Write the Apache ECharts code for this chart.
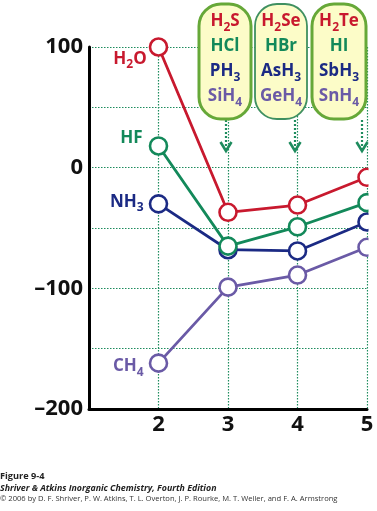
<!DOCTYPE html>
<html>
<head>
<meta charset="utf-8">
<script src="https://cdn.jsdelivr.net/npm/echarts@6/dist/echarts.min.js"></script>
<style>
html,body{margin:0;padding:0;background:#fff;}
#chart{width:377px;height:511px;}
</style>
</head>
<body>
<div id="chart"></div>
<script>
// ---- data ----
const periods = [2, 3, 4, 5];
const h2oSeries = [100, -37, -31, -8];   // H2O, H2S, H2Se, H2Te
const hfSeries = [18, -65, -49, -29];    // HF, HCl, HBr, HI
const nh3Series = [-30, -68, -69, -45];  // NH3, PH3, AsH3, SbH3
const ch4Series = [-162, -99, -89, -66]; // CH4, SiH4, GeH4, SnH4
const seriesNames = ['H_2O', 'HF', 'NH_3', 'CH_4'];
const yTicks = [100, 0, -100, -200];
const yTickLabels = ['100', '0', '–100', '–200'];
const xTicks = [2, 3, 4, 5];
const xTickLabels = ['2', '3', '4', '5'];
const boxFormulas = [
  ['H_2S', 'HCl', 'PH_3', 'SiH_4'],
  ['H_2Se', 'HBr', 'AsH_3', 'GeH_4'],
  ['H_2Te', 'HI', 'SbH_3', 'SnH_4']
];
const footerLines = [
  'Figure 9-4',
  'Shriver & Atkins Inorganic Chemistry, Fourth Edition',
  '© 2006 by D. F. Shriver, P. W. Atkins, T. L. Overton, J. P. Rourke, M. T. Weller, and F. A. Armstrong'
];

// ---- styles ----
const COLORS = ['#c8192e', '#13895a', '#1b2a84', '#6a5aa6'];
const FONT = '"Open Sans", "Liberation Sans", sans-serif';
const GRID_COLOR = '#1e8c5e';

function toRich(str, mainKey, subKey) {
  let out = '';
  const parts = str.split(/(_\d)/);
  parts.forEach(p => {
    if (!p) return;
    if (p[0] === '_') out += '{' + subKey + '|' + p.slice(1) + '}';
    else out += '{' + mainKey + '|' + p + '}';
  });
  return out;
}

const chart = echarts.init(document.getElementById('chart'), null, {renderer: 'canvas'});

const allSeries = [h2oSeries, hfSeries, nh3Series, ch4Series];
const labelOffsets = [[3, 12], [-1, -8], [0, -2], [0, 3]];

function richFor(color) {
  return {
    m: {fontFamily: FONT, fontWeight: 'bold', fontSize: 17, color: color, lineHeight: 24},
    s: {fontFamily: FONT, fontWeight: 'bold', fontSize: 12, color: color, lineHeight: 12, verticalAlign: 'bottom'}
  };
}

const series = allSeries.map((vals, si) => ({
  type: 'line',
  name: seriesNames[si],
  data: vals.map((v, i) => {
    const item = {value: [periods[i], v]};
    if (i === 0) {
      item.label = {
        show: true,
        position: 'left',
        distance: 5,
        offset: labelOffsets[si],
        formatter: toRich(seriesNames[si], 'm', 's'),
        rich: richFor(COLORS[si])
      };
    }
    return item;
  }),
  symbol: 'circle',
  symbolSize: 17,
  showAllSymbol: true,
  clip: true,
  z: 5 + (3 - si),
  lineStyle: {color: COLORS[si], width: 2.8},
  itemStyle: {color: '#ffffff', borderColor: COLORS[si], borderWidth: 2.6},
  emphasis: {disabled: true},
  animation: false
}));

// ---- graphics: boxes, arrows, footer ----
const boxes = [
  {x: 199, w: 52, stroke: '#66a838', lw: 3},
  {x: 255, w: 52, stroke: '#3f9060', lw: 1.8},
  {x: 312, w: 54, stroke: '#66a838', lw: 3}
];
const graphics = [];
boxes.forEach((b, bi) => {
  graphics.push({
    type: 'rect', z: 50,
    shape: {x: b.x, y: 4, width: b.w, height: 115, r: 22},
    style: {fill: '#fcfcc8', stroke: b.stroke, lineWidth: b.lw}
  });
  const rich = {};
  let txt = '';
  boxFormulas[bi].forEach((f, li) => {
    rich['m' + li] = {fontFamily: FONT, fontWeight: 'bold', fontSize: 17, fill: COLORS[li], lineHeight: 25};
    rich['s' + li] = {fontFamily: FONT, fontWeight: 'bold', fontSize: 12, fill: COLORS[li], lineHeight: 12, verticalAlign: 'bottom'};
    txt += (li ? '\n' : '') + toRich(f, 'm' + li, 's' + li);
  });
  graphics.push({
    type: 'text', z: 51,
    x: b.x + b.w / 2, y: 9,
    style: {text: txt, rich: rich, align: 'center', verticalAlign: 'top'}
  });
});
[226, 295, 362].forEach(ax => {
  graphics.push({
    type: 'line', z: 49,
    shape: {x1: ax, y1: 120, x2: ax, y2: 149},
    style: {stroke: GRID_COLOR, lineWidth: 2.2, lineDash: [2, 2]}
  });
  graphics.push({
    type: 'polyline', z: 49,
    shape: {points: [[ax - 5.5, 142], [ax, 151], [ax + 5.5, 142]]},
    style: {stroke: GRID_COLOR, lineWidth: 2.6, fill: null}
  });
});
// mask: the plot is clipped at period 5
graphics.push({
  type: 'rect', zlevel: 1, z: 100,
  shape: {x: 368.5, y: 150, width: 12, height: 258},
  style: {fill: '#ffffff'}
});
const footerStyles = [
  {fontWeight: 'bold', fontStyle: 'normal', color: '#222', y: 476, size: 9.2},
  {fontWeight: 'bold', fontStyle: 'italic', color: '#222', y: 488, size: 8.8},
  {fontWeight: 'normal', fontStyle: 'normal', color: '#333', y: 499, size: 7.6}
];
footerLines.forEach((t, i) => {
  const fs = footerStyles[i];
  graphics.push({
    type: 'text', z: 60, x: 0, y: fs.y,
    style: {
      text: t, fontFamily: FONT, fontSize: fs.size, fontWeight: fs.fontWeight,
      fontStyle: fs.fontStyle, fill: fs.color, align: 'left', verticalAlign: 'middle'
    }
  });
});

const option = {
  animation: false,
  backgroundColor: '#ffffff',
  grid: {left: 89, right: 10, top: 47, bottom: 102, containLabel: false},
  xAxis: {
    type: 'value', min: 1, max: 5, interval: 1,
    axisLine: {show: true, onZero: false, lineStyle: {color: '#000', width: 3}},
    axisTick: {show: false},
    axisLabel: {
      margin: 5,
      fontFamily: FONT, fontWeight: 'bold', fontSize: 22, color: '#111',
      formatter: v => {
        const i = xTicks.indexOf(v);
        return i >= 0 ? xTickLabels[i] : '';
      }
    },
    splitLine: {show: true, lineStyle: {color: GRID_COLOR, width: 1.2, type: [1.5, 1.5]}}
  },
  yAxis: {
    type: 'value', min: -200, max: 100, interval: 50,
    axisLine: {show: true, onZero: false, lineStyle: {color: '#000', width: 3}},
    axisTick: {show: false},
    axisLabel: {
      margin: 6,
      fontFamily: FONT, fontWeight: 'bold', fontSize: 22, color: '#111',
      formatter: v => {
        const i = yTicks.indexOf(v);
        return i >= 0 ? yTickLabels[i] : '';
      }
    },
    splitLine: {show: true, lineStyle: {color: GRID_COLOR, width: 1.2, type: [1.5, 1.5]}}
  },
  series: series,
  graphic: graphics
};
chart.setOption(option);
</script>
</body>
</html>
